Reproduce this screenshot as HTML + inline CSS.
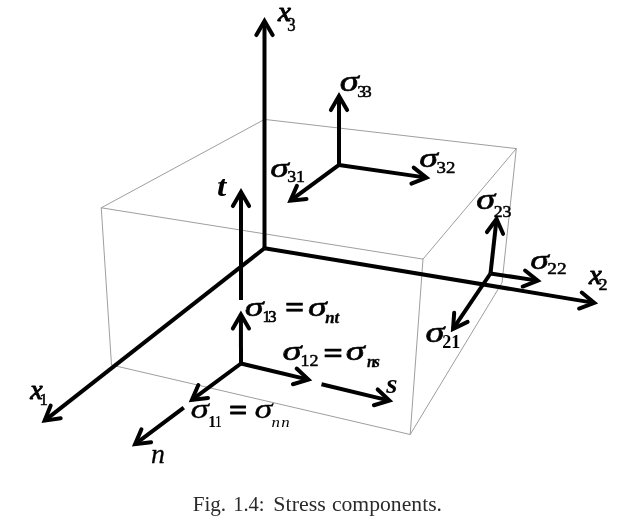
<!DOCTYPE html>
<html lang="en"><head><meta charset="utf-8"><title>Fig. 1.4: Stress components</title>
<style>html,body{margin:0;padding:0;background:#fff}svg{display:block;will-change:transform;opacity:.999}</style></head>
<body>
<svg width="628" height="522" viewBox="0 0 628 522">
<g stroke="#858585" stroke-width="0.8" fill="none">
<path d="M101.25 207.8L423 259.1"/>
<path d="M101.25 207.8L111.5 365"/>
<path d="M111.5 365L410.2 434.5"/>
<path d="M423 259.1L410.2 434.5"/>
<path d="M101.25 207.8L264.5 119.4"/>
<path d="M264.5 119.4L516.3 148.6"/>
<path d="M423 259.1L516.3 148.6"/>
<path d="M516.3 148.6L502 282.8"/>
<path d="M502 282.8L410.2 434.5"/>
</g>
<g stroke="#000" stroke-width="4.0" fill="none">
<path d="M264.50 248.20L264.50 21.00" stroke-linecap="butt"/>
<path d="M256.40 35.03L264.50 21.00L272.60 35.03" stroke-linecap="round" stroke-linejoin="miter" stroke-miterlimit="10"/>
<path d="M264.50 248.20L594.25 302.85" stroke-linecap="butt"/>
<path d="M581.74 292.56L594.25 302.85L579.09 308.54" stroke-linecap="round" stroke-linejoin="miter" stroke-miterlimit="10"/>
<path d="M264.50 248.20L44.65 420.63" stroke-linecap="butt"/>
<path d="M60.69 418.35L44.65 420.63L50.69 405.60" stroke-linecap="round" stroke-linejoin="miter" stroke-miterlimit="10"/>
<path d="M241.00 300.00L241.00 192.00" stroke-linecap="butt"/>
<path d="M232.90 206.03L241.00 192.00L249.10 206.03" stroke-linecap="round" stroke-linejoin="miter" stroke-miterlimit="10"/>
<path d="M339.00 164.90L339.00 96.00" stroke-linecap="butt"/>
<path d="M330.90 110.03L339.00 96.00L347.10 110.03" stroke-linecap="round" stroke-linejoin="miter" stroke-miterlimit="10"/>
<path d="M339.00 164.90L426.44 177.62" stroke-linecap="butt"/>
<path d="M413.72 167.59L426.44 177.62L411.39 183.62" stroke-linecap="round" stroke-linejoin="miter" stroke-miterlimit="10"/>
<path d="M339.00 164.90L290.42 200.73" stroke-linecap="butt"/>
<path d="M306.52 198.92L290.42 200.73L296.90 185.88" stroke-linecap="round" stroke-linejoin="miter" stroke-miterlimit="10"/>
<path d="M490.50 273.50L496.56 218.98" stroke-linecap="butt"/>
<path d="M486.96 232.02L496.56 218.98L503.06 233.81" stroke-linecap="round" stroke-linejoin="miter" stroke-miterlimit="10"/>
<path d="M490.50 273.50L537.74 280.61" stroke-linecap="butt"/>
<path d="M525.08 270.51L537.74 280.61L522.67 286.53" stroke-linecap="round" stroke-linejoin="miter" stroke-miterlimit="10"/>
<path d="M490.50 273.50L453.04 328.98" stroke-linecap="butt"/>
<path d="M467.60 321.89L453.04 328.98L454.18 312.82" stroke-linecap="round" stroke-linejoin="miter" stroke-miterlimit="10"/>
<path d="M241.00 363.50L240.91 314.50" stroke-linecap="butt"/>
<path d="M232.83 328.54L240.91 314.50L249.03 328.51" stroke-linecap="round" stroke-linejoin="miter" stroke-miterlimit="10"/>
<path d="M241.00 363.50L308.41 379.67" stroke-linecap="butt"/>
<path d="M296.66 368.52L308.41 379.67L292.88 384.27" stroke-linecap="round" stroke-linejoin="miter" stroke-miterlimit="10"/>
<path d="M241.00 363.50L191.91 399.92" stroke-linecap="butt"/>
<path d="M208.01 398.06L191.91 399.92L198.35 385.05" stroke-linecap="round" stroke-linejoin="miter" stroke-miterlimit="10"/>
<path d="M183.80 407.60L135.10 444.20" stroke-linecap="butt"/>
<path d="M151.18 442.24L135.10 444.20L141.45 429.29" stroke-linecap="round" stroke-linejoin="miter" stroke-miterlimit="10"/>
<path d="M321.50 384.20L389.41 400.66" stroke-linecap="butt"/>
<path d="M377.69 389.48L389.41 400.66L373.87 405.23" stroke-linecap="round" stroke-linejoin="miter" stroke-miterlimit="10"/>
</g>
<g font-family="'Liberation Serif', serif" font-size="100" fill="#000">
<text transform="matrix(0.2917 0 0 0.2640 277.88 21.07)" font-style="italic" stroke="#000" stroke-width="3.5" stroke-linejoin="round">x</text>
<text transform="matrix(0.1667 0 0 0.1855 287.20 30.73)" stroke="#000" stroke-width="3" stroke-linejoin="round">3</text>
<text transform="matrix(0.2875 0 0 0.2720 589.06 284.06)" font-style="italic" stroke="#000" stroke-width="3.5" stroke-linejoin="round">x</text>
<text transform="matrix(0.1814 0 0 0.1681 598.46 290.46)" stroke="#000" stroke-width="3" stroke-linejoin="round">2</text>
<text transform="matrix(0.2812 0 0 0.2700 30.34 398.76)" font-style="italic" stroke="#000" stroke-width="3.5" stroke-linejoin="round">x</text>
<text transform="matrix(0.1684 0 0 0.1691 39.42 404.83)" stroke="#000" stroke-width="3" stroke-linejoin="round">1</text>
<text transform="matrix(0.3333 0 0 0.2982 216.90 195.90)" font-style="italic" font-weight="bold">t</text>
<text transform="matrix(0.2889 0 0 0.2812 386.30 392.52)" font-style="italic" font-weight="bold">s</text>
<text transform="matrix(0.2791 0 0 0.2708 150.96 462.63)" font-style="italic" stroke="#000" stroke-width="1" stroke-linejoin="round">n</text>
<text transform="matrix(0.3863 0 0 0.2852 339.73 91.23)" font-style="italic" stroke="#000" stroke-width="2" stroke-linejoin="round">σ</text>
<text transform="matrix(0.1744 0 0 0.1739 357.28 96.75)" letter-spacing="-16.8" stroke="#000" stroke-width="3" stroke-linejoin="round">33</text>
<text transform="matrix(0.3784 0 0 0.2796 419.14 167.44)" font-style="italic" stroke="#000" stroke-width="2" stroke-linejoin="round">σ</text>
<text transform="matrix(0.1882 0 0 0.1754 436.54 173.05)" stroke="#000" stroke-width="3" stroke-linejoin="round">32</text>
<text transform="matrix(0.3765 0 0 0.2759 270.35 176.75)" font-style="italic" stroke="#000" stroke-width="2" stroke-linejoin="round">σ</text>
<text transform="matrix(0.1793 0 0 0.1725 287.16 182.26)" stroke="#000" stroke-width="3" stroke-linejoin="round">31</text>
<text transform="matrix(0.3843 0 0 0.2852 476.23 208.63)" font-style="italic" stroke="#000" stroke-width="2" stroke-linejoin="round">σ</text>
<text transform="matrix(0.1789 0 0 0.1725 493.66 217.26)" stroke="#000" stroke-width="3" stroke-linejoin="round">23</text>
<text transform="matrix(0.3765 0 0 0.2815 530.35 269.04)" font-style="italic" stroke="#000" stroke-width="2" stroke-linejoin="round">σ</text>
<text transform="matrix(0.1935 0 0 0.1725 547.32 273.86)" stroke="#000" stroke-width="3" stroke-linejoin="round">22</text>
<text transform="matrix(0.3843 0 0 0.2870 425.53 342.03)" font-style="italic" stroke="#000" stroke-width="2" stroke-linejoin="round">σ</text>
<text transform="matrix(0.1813 0 0 0.1910 442.27 347.51)" font-weight="bold">21</text>
<text transform="matrix(0.3824 0 0 0.2796 244.74 316.44)" font-style="italic" stroke="#000" stroke-width="2" stroke-linejoin="round">σ</text>
<text transform="matrix(0.1649 0 0 0.1662 262.45 322.20)" letter-spacing="-14.6" stroke="#000" stroke-width="4" stroke-linejoin="round">13</text>
<text transform="matrix(0.3396 0 0 0.3069 285.04 318.33)" font-weight="bold" stroke="#000" stroke-width="2" stroke-linejoin="round">=</text>
<text transform="matrix(0.3784 0 0 0.2796 308.04 316.44)" font-style="italic" stroke="#000" stroke-width="2" stroke-linejoin="round">σ</text>
<text transform="matrix(0.1686 0 0 0.1672 325.13 322.53)" font-style="italic" font-weight="bold" stroke="#000" stroke-width="2" stroke-linejoin="round">nt</text>
<text transform="matrix(0.3863 0 0 0.2685 282.53 360.36)" font-style="italic" stroke="#000" stroke-width="2" stroke-linejoin="round">σ</text>
<text transform="matrix(0.1798 0 0 0.1768 300.54 366.35)" stroke="#000" stroke-width="3" stroke-linejoin="round">12</text>
<text transform="matrix(0.3458 0 0 0.3000 323.32 363.20)" font-weight="bold" stroke="#000" stroke-width="2" stroke-linejoin="round">=</text>
<text transform="matrix(0.3863 0 0 0.2685 345.63 360.36)" font-style="italic" stroke="#000" stroke-width="2" stroke-linejoin="round">σ</text>
<text transform="matrix(0.1562 0 0 0.1580 366.94 366.58)" font-style="italic" font-weight="bold" letter-spacing="-11.9" stroke="#000" stroke-width="2" stroke-linejoin="round">ns</text>
<text transform="matrix(0.3720 0 0 0.2792 190.58 417.62)" font-style="italic" stroke="#000" stroke-width="1" stroke-linejoin="round">σ</text>
<text transform="matrix(0.1568 0 0 0.1742 208.15 427.00)" font-weight="bold">1</text>
<text transform="matrix(0.1361 0 0 0.1742 214.91 427.00)" stroke="#000" stroke-width="1" stroke-linejoin="round">1</text>
<text transform="matrix(0.3220 0 0 0.2966 228.93 419.73)" font-weight="bold" stroke="#000" stroke-width="3" stroke-linejoin="round">=</text>
<text transform="matrix(0.3620 0 0 0.2792 254.41 417.62)" font-style="italic" stroke="#000" stroke-width="1" stroke-linejoin="round">σ</text>
<text transform="matrix(0.1690 0 0 0.1404 271.42 427.00)" font-style="italic" letter-spacing="8">nn</text>
<text transform="matrix(0.2114 0 0 0.2120 192.67 510.80)" fill="#2a2a2a">Fig.</text>
<text transform="matrix(0.2059 0 0 0.2120 233.15 510.80)" fill="#2a2a2a">1.4:</text>
<text transform="matrix(0.2193 0 0 0.2120 273.36 510.80)" fill="#2a2a2a">Stress</text>
<text transform="matrix(0.2167 0 0 0.2120 331.93 510.80)" fill="#2a2a2a">components.</text>
</g></svg>
</body></html>
